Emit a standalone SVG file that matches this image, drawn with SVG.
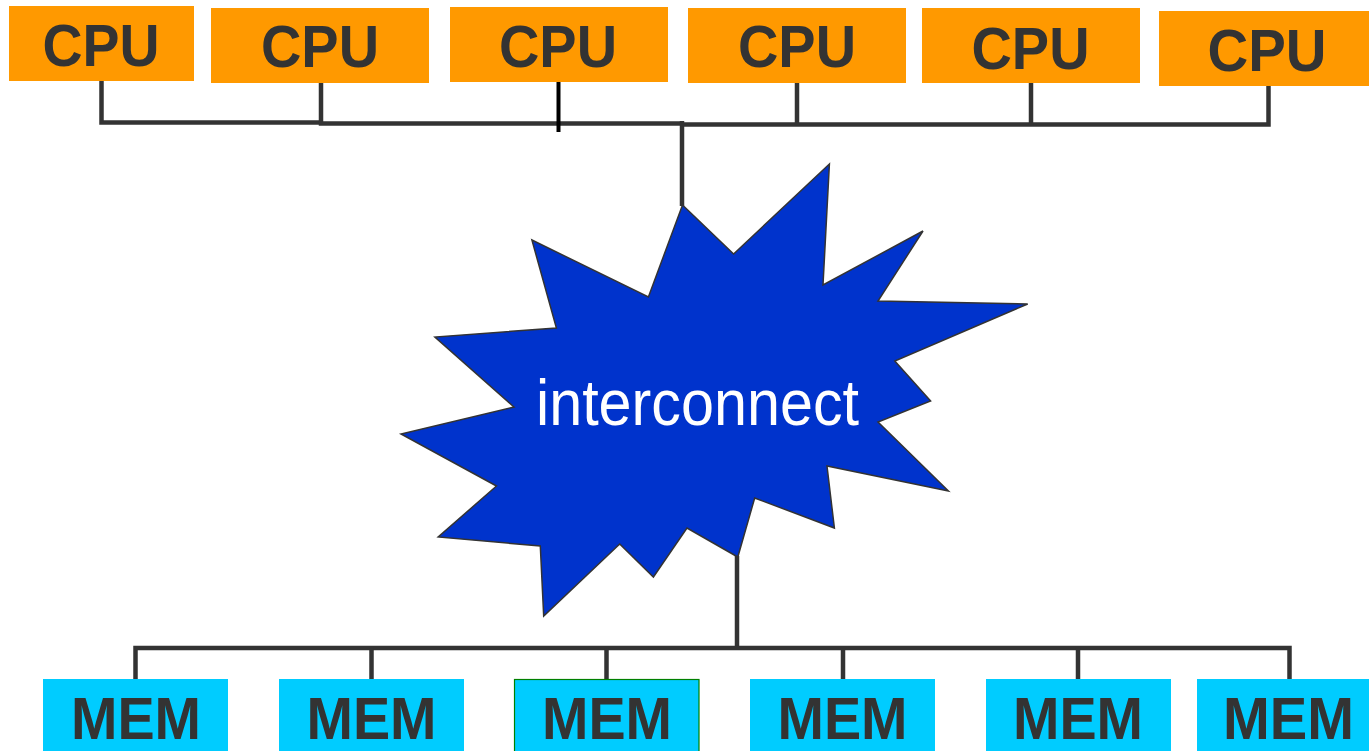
<svg xmlns="http://www.w3.org/2000/svg" width="1369" height="751" viewBox="0 0 1369 751">
<style>
.cpu rect{fill:#FF9900;}
.mem rect{fill:#00CCFF;}
.lbl{font-family:"Liberation Sans",Arial,sans-serif;font-weight:bold;fill:#333333;text-anchor:middle;}
.cpu .lbl{font-size:60px;}
.mem .lbl{font-size:59px;}
.wire{fill:none;stroke:#333333;stroke-width:4.5;stroke-linejoin:miter;stroke-linecap:butt;}
</style>
<rect width="1369" height="751" fill="#FFFFFF"/>
<g id="connectors">
<path class="wire" d="M101.5,81 V122.5 H321"/>
<path class="wire" d="M321,83 V123.5 H684"/>
<path class="wire" d="M682,121 V206"/>
<path class="wire" d="M680,124.5 H1268.5 V86"/>
<path class="wire" d="M797,83 V125"/>
<path class="wire" d="M1031,83 V125"/>
<path fill="none" stroke="#000000" stroke-width="4" d="M558.5,82 V132"/>
<path class="wire" d="M737,556 V650"/>
<path class="wire" d="M135.5,679 V648 H1289.5 V679"/>
<path class="wire" d="M371.5,648 V679 M606.5,648 V679 M843,648 V679 M1078,648 V679"/>
</g>
<g id="cpu1" class="cpu"><rect x="9" y="6" width="185" height="75"/><text class="lbl" x="101" y="66" textLength="117" lengthAdjust="spacingAndGlyphs">CPU</text></g>
<g id="cpu2" class="cpu"><rect x="211" y="8" width="218" height="75"/><text class="lbl" x="320" y="67" textLength="118" lengthAdjust="spacingAndGlyphs">CPU</text></g>
<g id="cpu3" class="cpu"><rect x="450" y="7" width="218" height="75"/><text class="lbl" x="558" y="67" textLength="118" lengthAdjust="spacingAndGlyphs">CPU</text></g>
<g id="cpu4" class="cpu"><rect x="688" y="8" width="218" height="75"/><text class="lbl" x="797" y="67" textLength="118" lengthAdjust="spacingAndGlyphs">CPU</text></g>
<g id="cpu5" class="cpu"><rect x="922" y="8" width="218" height="75"/><text class="lbl" x="1030.5" y="69" textLength="118" lengthAdjust="spacingAndGlyphs">CPU</text></g>
<g id="cpu6" class="cpu"><rect x="1159" y="11" width="212" height="75"/><text class="lbl" x="1267" y="71" textLength="119" lengthAdjust="spacingAndGlyphs">CPU</text></g>
<g id="interconnect">
<polygon fill="#0033CC" stroke="#333333" stroke-width="1.5" stroke-linejoin="miter" points="682.5,205 733.6,254 829.4,164 823,285 923,231 878,301 1027.7,304 894.8,361 930.6,401 878,422 948.4,491 827,466 834.4,528 754.7,498 737.8,557 687,528 653.4,577 619.7,544 543.7,616 540.3,546 438.2,537 496.5,486 401,434 514,407 434.9,337 556.4,328 531.9,240 648.4,297"/>
<text x="697.5" y="425" font-family="Liberation Sans,Arial,sans-serif" font-size="64" fill="#FFFFFF" text-anchor="middle" textLength="323" lengthAdjust="spacingAndGlyphs">interconnect</text>
</g>
<g id="mem1" class="mem"><rect x="43" y="679" width="185" height="80"/><text class="lbl" x="136" y="739" textLength="130" lengthAdjust="spacingAndGlyphs">MEM</text></g>
<g id="mem2" class="mem"><rect x="279" y="679" width="185" height="80"/><text class="lbl" x="371.5" y="739" textLength="130" lengthAdjust="spacingAndGlyphs">MEM</text></g>
<g id="mem3" class="mem"><rect x="514.5" y="679.5" width="184.5" height="80" stroke="#008000" stroke-width="1.2"/><text class="lbl" x="607" y="739" textLength="130" lengthAdjust="spacingAndGlyphs">MEM</text></g>
<g id="mem4" class="mem"><rect x="750" y="679" width="185" height="80"/><text class="lbl" x="842.5" y="739" textLength="130" lengthAdjust="spacingAndGlyphs">MEM</text></g>
<g id="mem5" class="mem"><rect x="986" y="679" width="185" height="80"/><text class="lbl" x="1078" y="739" textLength="130" lengthAdjust="spacingAndGlyphs">MEM</text></g>
<g id="mem6" class="mem"><rect x="1197" y="679" width="175" height="80"/><text class="lbl" x="1288.5" y="739" textLength="131" lengthAdjust="spacingAndGlyphs">MEM</text></g>
</svg>
